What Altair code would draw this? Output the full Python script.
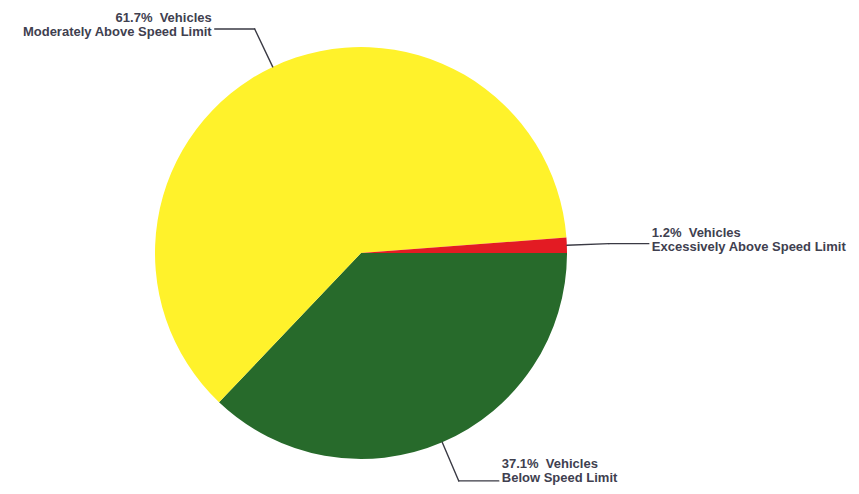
import math
import altair as alt
import pandas as pd

# ---- data ----
categories = ["Below Speed Limit", "Moderately Above Speed Limit", "Excessively Above Speed Limit"]
percents = [37.1, 61.7, 1.2]
slice_order = [0, 1, 2]
colors = ["#276A2B", "#FFF22B", "#E31B23"]

# ---- layout ----
W, H = 843, 478          # chart area (page minus 8px margins)
CX, CY = 353, 245        # pie centre inside the chart
R = 206                  # pie radius
R_ELBOW = 248            # where leader lines bend
ARM = 40                 # horizontal arm length
GAP = 3                  # gap between arm and text
LINE_GAP = 14            # distance between the two label lines
START = math.pi / 2      # first slice starts at 3 o'clock

df = pd.DataFrame({"category": categories, "pct": percents, "order": slice_order})

xs = alt.Scale(domain=[-CX, W - CX], nice=False, zero=False)
ys = alt.Scale(domain=[-CY, H - CY], nice=False, zero=False, reverse=True)

base = alt.Chart(df)

pie = base.transform_calculate(cx="0", cy="0").mark_arc(outerRadius=R).encode(
    x=alt.X("cx:Q", scale=xs, axis=None),
    y=alt.Y("cy:Q", scale=ys, axis=None),
    theta=alt.Theta("pct:Q", stack=True,
                    scale=alt.Scale(range=[START, START + 2 * math.pi])),
    color=alt.Color("category:N", scale=alt.Scale(domain=categories, range=colors), legend=None),
    order=alt.Order("order:Q"),
)

ann = base.transform_window(
    cum="sum(pct)", sort=[alt.SortField("order")], frame=[None, 0]
).transform_joinaggregate(total="sum(pct)").transform_calculate(
    mid=f"{START} + 2*PI*(datum.cum - datum.pct/2)/datum.total",
).transform_calculate(
    side="sin(datum.mid) < 0 ? -1 : 1",
    x0=f"{R}*sin(datum.mid)",
    y0=f"-{R}*cos(datum.mid)",
    x1=f"{R_ELBOW}*sin(datum.mid)",
    y1=f"-{R_ELBOW}*cos(datum.mid)",
).transform_calculate(
    x2=f"datum.x1 + datum.side*{ARM}",
    ty2=f"min(datum.y1 + 3, {H - CY - 8})",
).transform_calculate(
    tx=f"datum.x2 + datum.side*{GAP}",
    ty1=f"datum.ty2 - {LINE_GAP}",
    line1="format(datum.pct, '.1f') + '%\u00a0 Vehicles'",
)

line_color = "#3a3a44"
rule1 = ann.mark_rule(color=line_color, strokeWidth=1.4, strokeCap="round").encode(
    x=alt.X("x0:Q", scale=xs, axis=None), y=alt.Y("y0:Q", scale=ys, axis=None),
    x2="x1:Q", y2="y1:Q",
)
rule2 = ann.mark_rule(color=line_color, strokeWidth=1.4, strokeCap="round").encode(
    x=alt.X("x1:Q", scale=xs, axis=None), y=alt.Y("y1:Q", scale=ys, axis=None),
    x2="x2:Q", y2="y1:Q",
)

txt_style = dict(font="Liberation Sans", fontSize=13, fontWeight="bold", color="#40404f", baseline="middle")

layers = [pie, rule1, rule2]
for cond, al in [("datum.side < 0", "right"), ("datum.side > 0", "left")]:
    sub = ann.transform_filter(cond)
    layers.append(sub.mark_text(align=al, **txt_style).encode(
        x=alt.X("tx:Q", scale=xs, axis=None), y=alt.Y("ty1:Q", scale=ys, axis=None),
        text="line1:N"))
    layers.append(sub.mark_text(align=al, **txt_style).encode(
        x=alt.X("tx:Q", scale=xs, axis=None), y=alt.Y("ty2:Q", scale=ys, axis=None),
        text="category:N"))

chart = alt.layer(*layers).properties(
    width=W, height=H, padding=0, autosize="none", background="white"
).configure_view(stroke=None)

chart.save("out.html", embed_options={"renderer": "svg", "actions": False})
